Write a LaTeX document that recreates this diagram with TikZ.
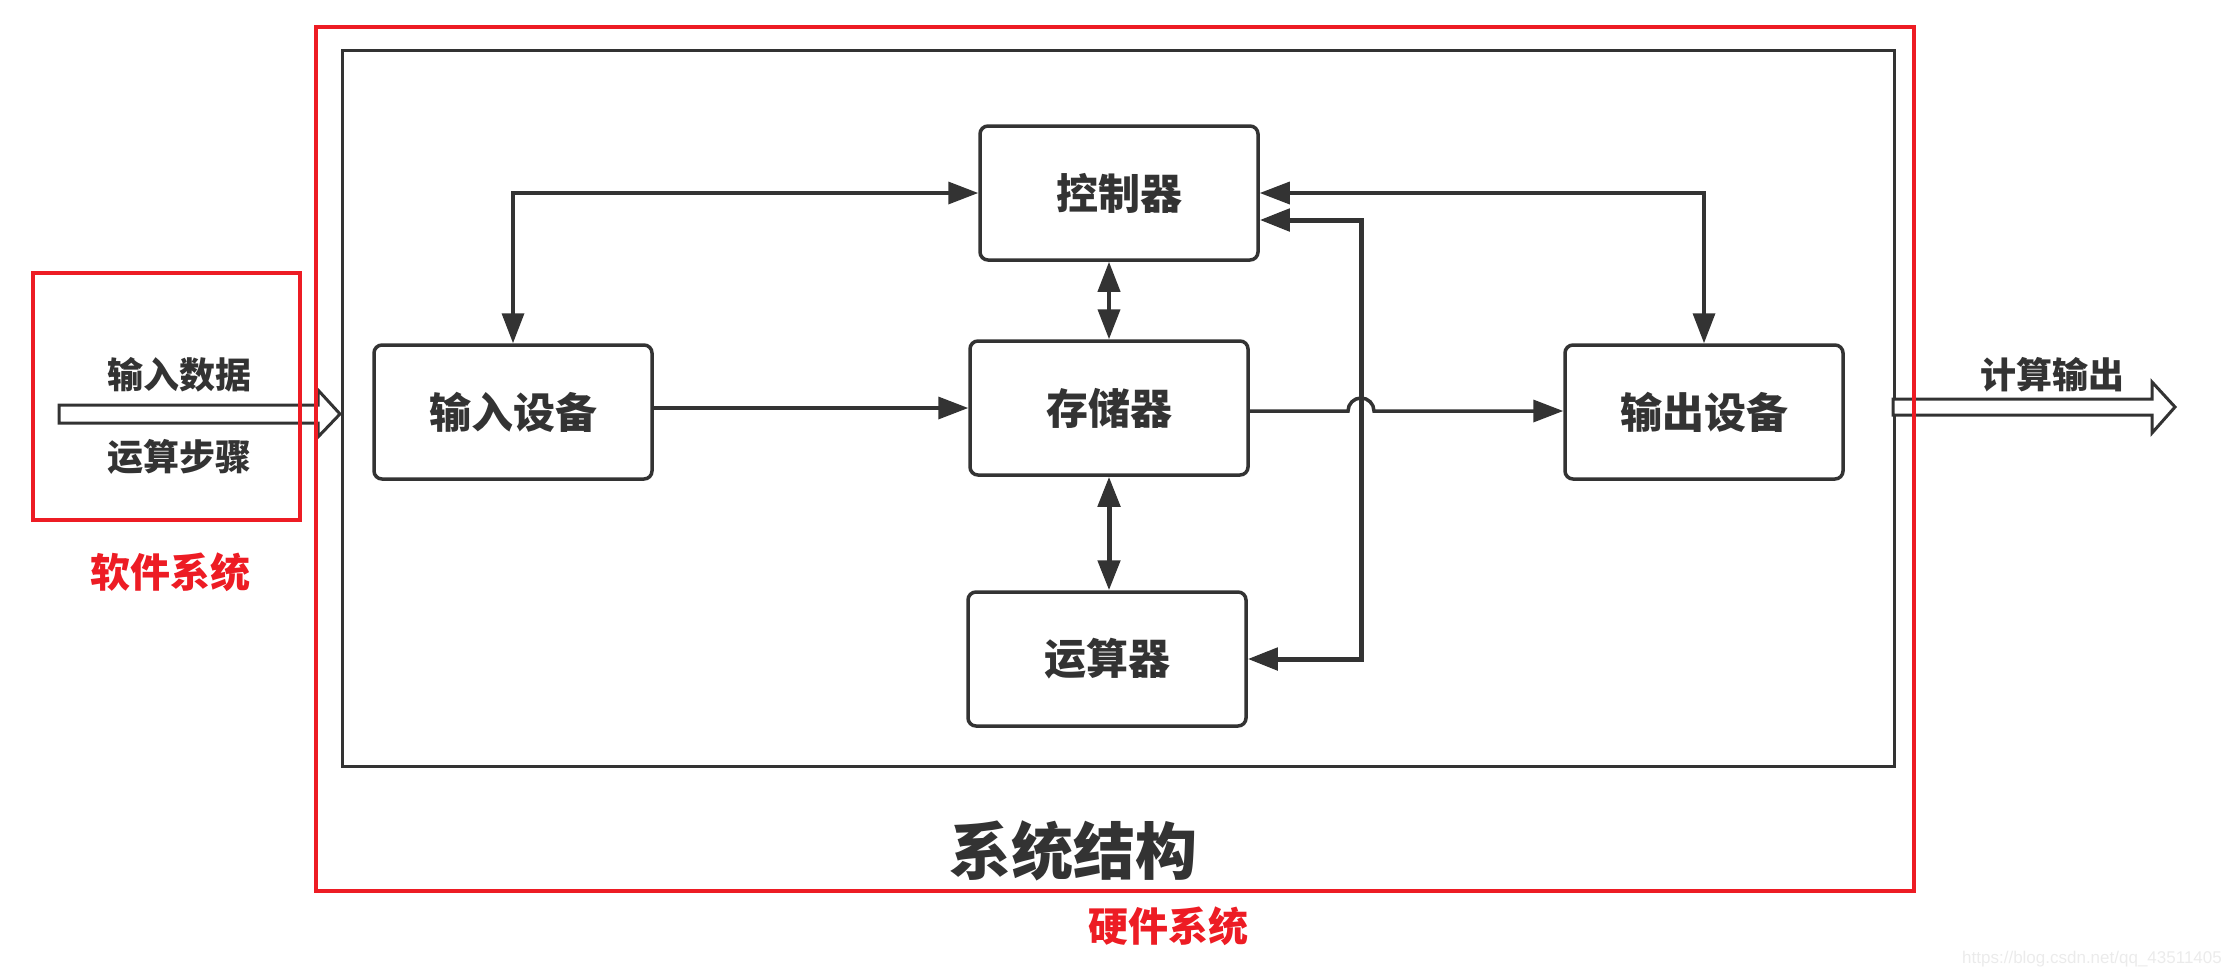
\documentclass[tikz,border=0pt]{standalone}
\usepackage{fontspec}
\newfontfamily\cjk{Noto Sans CJK SC}
\setsansfont{Liberation Sans}
\usetikzlibrary{arrows.meta}
\definecolor{ink}{HTML}{333333}
\definecolor{hwred}{HTML}{ED1C24}

\begin{document}
\begin{tikzpicture}[x=1pt, y=-1pt,
  >={Triangle[length=30pt, width=22pt]},
  unit/.style = {shape=rectangle, rounded corners=8pt, draw=ink, line width=3.5pt,
    minimum width=278pt, minimum height=134pt, text=ink,
    font=\cjk\bfseries\fontsize{42}{48}\selectfont},
  link/.style = {draw=ink, line width=3.5pt},
  txt/.style = {text=ink, font=\cjk\bfseries\fontsize{36}{42}\selectfont},
  redtxt/.style = {text=hwred, font=\cjk\bfseries\fontsize{40}{46}\selectfont},
  hollow/.style = {draw=ink, line width=3pt, fill=white}]

  \useasboundingbox (0,0) rectangle (2223,977);

  \draw[ink, line width=3pt] (342,50) rectangle (1894,766);

  \node[unit] (ctrl) at (1119,193) {控制器};
  \node[unit] (mem)  at (1109,408) {存储器};
  \node[unit] (alu)  at (1107,659) {运算器};
  \node[unit] (in)   at (513,412)  {输入设备};
  \node[unit] (out)  at (1704,412) {输出设备};

  \coordinate (hop)  at (1361,411);
  \coordinate (back) at (1361,220);

  \draw[link, <->] (in.north) |- (ctrl.west);
  \draw[link, <->] (ctrl.east) -| (out.north);
  \draw[link, ->] (in.east |- mem) -- (mem.west);
  \draw[link, ->] (mem.east |- hop) -- ([xshift=-13pt]hop)
    arc[start angle=180, end angle=0, radius=13pt] -- (out.west |- hop);
  \draw[link, line width=4pt, <->] (mem.north) -- (mem.north |- ctrl.south);
  \draw[link, line width=5pt, <->] (mem.south) -- (mem.south |- alu.north);
  \draw[link, line width=5pt, <->] (alu.east) -| (back) -- (ctrl.east |- back);

  % in and out arrows
  \draw[hollow] (59,405) -- (318,405) -- (318,390) -- (340,414)
    -- (318,437) -- (318,423) -- (59,423) -- cycle;
  \draw[hollow] (1893,399) -- (2152,399) -- (2152,382) -- (2175,407)
    -- (2152,433) -- (2152,415) -- (1893,415) -- cycle;

  \node[txt] (data)   at (179,375)  {输入数据};
  \node[txt] (steps)  at (179,457)  {运算步骤};
  \node[txt] (result) at (2052,375) {计算输出};
  \node[txt, font=\cjk\bfseries\fontsize{62}{70}\selectfont] (title) at (1073,851) {系统结构};

  \draw[hwred, line width=4.5pt] (33,273) rectangle (300,520);
  \draw[hwred, line width=4.5pt] (316,27) rectangle (1914,891);
  \node[redtxt] (soft) at (170,572) {软件系统};
  \node[redtxt] (hard) at (1168,926) {硬件系统};

  \node[text=black!8, font=\sffamily\fontsize{17}{20}\selectfont] (mark) at (2092,959)
    {https://blog.csdn.net/qq\_43511405};
\end{tikzpicture}
\end{document}
